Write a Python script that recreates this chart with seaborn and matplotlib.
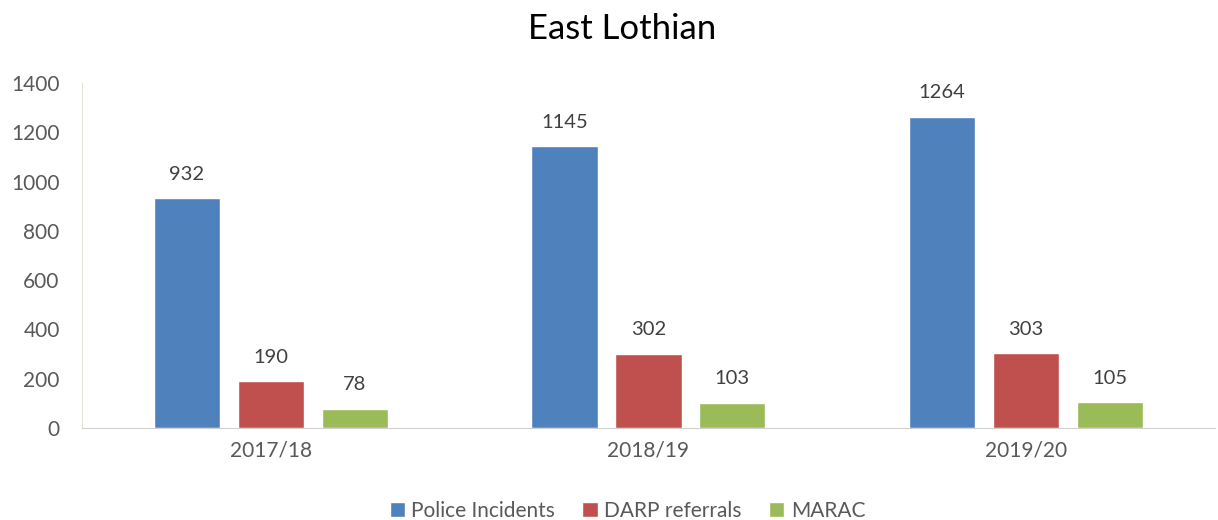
import pandas as pd
import seaborn as sns
import matplotlib.pyplot as plt

years = ['2017/18', '2018/19', '2019/20']
police_incidents = [932, 1145, 1264]
darp_referrals = [190, 302, 303]
marac = [78, 103, 105]
series_names = ['Police Incidents', 'DARP referrals', 'MARAC']
colors = ['#4F81BD', '#C0504D', '#9BBB59']

df = pd.DataFrame({
    'year': years * 3,
    'value': police_incidents + darp_referrals + marac,
    'series': [s for s in series_names for _ in years],
})

sns.set_style('white')
plt.rcParams['font.family'] = ['Lato', 'DejaVu Sans']
text_color = '#595959'

fig = plt.figure(figsize=(12.18, 5.2), dpi=100)
ax = fig.add_axes([0.0673, 0.177, 0.930, 0.663])

sns.barplot(data=df, x='year', y='value', hue='series', palette=colors,
            width=0.667, gap=0.21, saturation=1, ax=ax, legend=True)

for container in ax.containers:
    ax.bar_label(container, padding=11, fontsize=14.5, color='#404040')

ax.set_ylim(0, 1400)
ax.set_yticks(range(0, 1401, 200))
ax.set_xlim(-0.5, 2.5)
ax.set_xlabel('')
ax.set_ylabel('')
ax.tick_params(axis='both', length=0, labelsize=15, colors=text_color)
ax.tick_params(axis='x', pad=9)
ax.tick_params(axis='y', pad=16)

sns.despine(ax=ax, top=True, right=True)
ax.spines['left'].set_color('#E6E2D8')
ax.spines['bottom'].set_color('#D0D0D0')

fig.suptitle('East Lothian', fontsize=25, color='black', x=0.511, y=0.975)

handles, labels = ax.get_legend_handles_labels()
ax.legend(handles, labels, loc='center', bbox_to_anchor=(0.4815, -0.24),
          ncol=3, frameon=False, fontsize=15, handlelength=0.75,
          handleheight=0.75, handletextpad=0.3, columnspacing=1.3,
          labelcolor=text_color)

fig.savefig('out.png', dpi=100)
